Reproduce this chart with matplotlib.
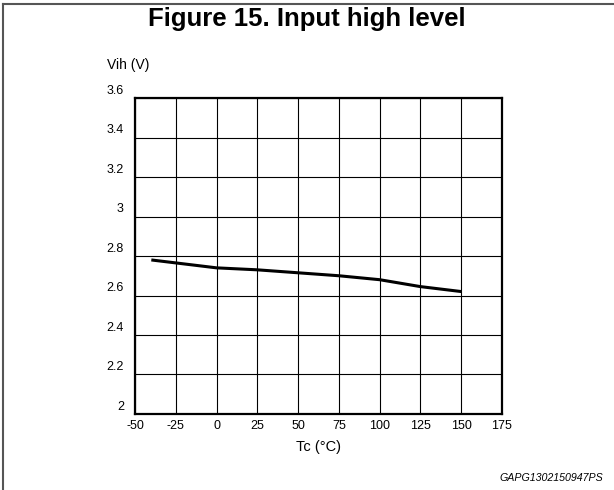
import matplotlib
matplotlib.use("Agg")
import matplotlib.pyplot as plt
import matplotlib.transforms as mtransforms
from matplotlib.lines import Line2D

plt.rcParams['font.family'] = ['Liberation Sans', 'DejaVu Sans']

tc = [-40, 0, 25, 50, 75, 100, 125, 150]
vih = [2.78, 2.74, 2.73, 2.715, 2.70, 2.68, 2.645, 2.62]
xticks = [-50, -25, 0, 25, 50, 75, 100, 125, 150, 175]
yticks = [2.0, 2.2, 2.4, 2.6, 2.8, 3.0, 3.2, 3.4, 3.6]
ytick_labels = ['2', '2.2', '2.4', '2.6', '2.8', '3', '3.2', '3.4', '3.6']

W, H = 614, 490
fig = plt.figure(figsize=(W / 100, H / 100), dpi=100)
ax = fig.add_axes([135 / W, 1 - 414 / H, (502 - 135) / W, (414 - 98) / H])

ax.plot(tc, vih, color='black', lw=2.2, solid_capstyle='butt', zorder=3)
ax.set_xlim(-50, 175)
ax.set_ylim(2.0, 3.6)
ax.set_xticks(xticks)
ax.set_xticklabels([str(v) for v in xticks], fontsize=9)
ax.set_yticks(yticks)
ax.set_yticklabels(ytick_labels, fontsize=9)
ax.tick_params(length=0, pad=4)
ax.tick_params(axis='y', pad=8)
ax.grid(True, color='black', lw=0.8)
for s in ax.spines.values():
    s.set_linewidth(1.6)

# shift y tick labels upward
off = mtransforms.ScaledTranslation(0, 9 / 100, fig.dpi_scale_trans)
for lab in ax.get_yticklabels():
    lab.set_transform(lab.get_transform() + off)

ax.set_xlabel('Tc (°C)', fontsize=10.5, labelpad=6)
fig.text(107 / W, 1 - 65 / H, 'Vih (V)', fontsize=10, ha='left', va='center')

fig.text(307 / W, 1 - 26 / H, 'Figure 15. Input high level', fontsize=18.5,
         fontweight='bold', ha='center', va='baseline')
fig.text(603 / W, 1 - 478 / H, 'GAPG1302150947PS', fontsize=7.7, style='italic',
         ha='right', va='center')

# figure border (top and left)
fig.add_artist(Line2D([3 / W, 1], [1 - 4 / H, 1 - 4 / H], color='#555555', lw=1.5,
                      transform=fig.transFigure))
fig.add_artist(Line2D([3 / W, 3 / W], [0, 1 - 4 / H], color='#555555', lw=1.5,
                      transform=fig.transFigure))

fig.savefig('out.png', dpi=100)
